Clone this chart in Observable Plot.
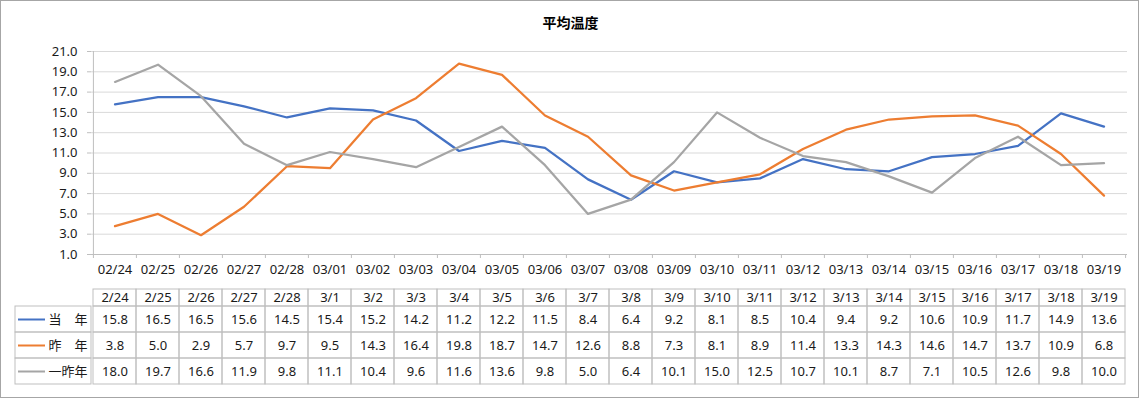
<!DOCTYPE html>
<html><head><meta charset="utf-8">
<script src="https://cdn.jsdelivr.net/npm/d3@7"></script>
<script src="https://cdn.jsdelivr.net/npm/@observablehq/plot@0.6"></script>
<style>
body{margin:0;background:#fff;}
#wrap{position:relative;width:1141px;height:400px;overflow:hidden;}
#border{position:absolute;left:0;top:0;width:1139px;height:398px;box-sizing:border-box;border:1px solid #a6a6a6;}
#title{position:absolute;left:0;width:1141px;top:12px;text-align:center;font:bold 14px "Noto Sans CJK JP",sans-serif;color:#000;}
.part{position:absolute;left:0;}
</style></head><body>
<div id="wrap"><div id="border"></div><div id="title">平均温度</div>
<div id="chart" class="part" style="top:40px"></div>
<div id="head" class="part" style="top:289px"></div>
<div id="body" class="part" style="top:305px"></div>
</div>
<script>
const dates = ["02/24","02/25","02/26","02/27","02/28","03/01","03/02","03/03","03/04","03/05","03/06","03/07","03/08","03/09","03/10","03/11","03/12","03/13","03/14","03/15","03/16","03/17","03/18","03/19"];
const headerLabels = ["2/24","2/25","2/26","2/27","2/28","3/1","3/2","3/3","3/4","3/5","3/6","3/7","3/8","3/9","3/10","3/11","3/12","3/13","3/14","3/15","3/16","3/17","3/18","3/19"];
const seriesNames = ["当　年","昨　年","一昨年"];
const seriesColors = ["#4472C4","#ED7D31","#A5A5A5"];
const currentYear = [15.8,16.5,16.5,15.6,14.5,15.4,15.2,14.2,11.2,12.2,11.5,8.4,6.4,9.2,8.1,8.5,10.4,9.4,9.2,10.6,10.9,11.7,14.9,13.6];
const lastYear = [3.8,5.0,2.9,5.7,9.7,9.5,14.3,16.4,19.8,18.7,14.7,12.6,8.8,7.3,8.1,8.9,11.4,13.3,14.3,14.6,14.7,13.7,10.9,6.8];
const twoYearsAgo = [18.0,19.7,16.6,11.9,9.8,11.1,10.4,9.6,11.6,13.6,9.8,5.0,6.4,10.1,15.0,12.5,10.7,10.1,8.7,7.1,10.5,12.6,9.8,10.0];
const yTicks = [1,3,5,7,9,11,13,15,17,19,21];

const values = [currentYear, lastYear, twoYearsAgo];
const rows = seriesNames.flatMap((s, k) => dates.map((d, i) => ({series: s, date: d, value: values[k][i]})));

const W = 1141, mL = 91, mR = 14;
const innerW = W - mL - mR;
const bw = innerW / dates.length;
const chartH = 248, chartMT = 11, chartMB = 34;
const frameH = chartH - chartMT - chartMB;
const txt = "#1a1a1a", axisGray = "#bfbfbf";
const style = {fontFamily: '"Noto Sans","Noto Sans CJK JP",sans-serif', fontSize: "13px", color: txt, overflow: "visible", background: "transparent"};
const xScale = {type: "band", domain: dates, padding: 0, axis: null, label: null};
const color = {domain: seriesNames, range: seriesColors};

const chart = Plot.plot({
  width: W, height: chartH, marginTop: chartMT, marginBottom: chartMB, marginLeft: mL, marginRight: mR, style,
  x: xScale, y: {domain: [1, 21], axis: null, label: null}, color,
  marks: [
    Plot.gridY(yTicks, {stroke: "#d9d9d9", strokeOpacity: 1}),
    Plot.axisY(yTicks, {label: null, tickSize: 4, tickPadding: 10, tickFormat: d => d.toFixed(1), stroke: axisGray, strokeOpacity: 1, fill: txt, fontSize: 13}),
    Plot.ruleX([dates[0]], {x: d => d, dx: -bw / 2, stroke: axisGray}),
    Plot.ruleY([1], {y: d => d, insetLeft: -4, stroke: axisGray}),
    Plot.ruleX(dates, {x: d => d, dx: -bw / 2, insetTop: frameH, insetBottom: -4, stroke: axisGray}),
    Plot.ruleX(dates.slice(-1), {x: d => d, dx: bw / 2, insetTop: frameH, insetBottom: -4, stroke: axisGray}),
    Plot.axisX({label: null, tickSize: 0, tickPadding: 10, fontSize: 13, fill: txt}),
    Plot.line(rows, {x: "date", y: "value", z: "series", stroke: "series", strokeWidth: 2.25})
  ]
});
document.getElementById("chart").append(chart);

const head = Plot.plot({
  width: W, height: 17, marginTop: 0, marginBottom: 0, marginLeft: mL, marginRight: mR, style,
  x: xScale,
  marks: [
    Plot.cell(dates, {x: d => d, stroke: axisGray, fill: "none"}),
    Plot.text(dates, {x: d => d, text: (d, i) => headerLabels[i], fill: txt, fontSize: 13})
  ]
});
document.getElementById("head").append(head);

const body = Plot.plot({
  width: W, height: 81, marginTop: 0, marginBottom: 1, marginLeft: mL, marginRight: mR, style,
  x: xScale, y: {type: "band", domain: seriesNames, padding: 0, axis: null, label: null}, color,
  marks: [
    Plot.cell(rows, {x: "date", y: "series", stroke: axisGray, fill: "none"}),
    Plot.cell(seriesNames, {y: d => d, stroke: axisGray, fill: "none", insetLeft: -(mL - 15), insetRight: innerW}),
    Plot.text(rows, {x: "date", y: "series", text: d => d.value.toFixed(1), fill: txt, fontSize: 13}),
    Plot.ruleY(seriesNames, {y: d => d, stroke: d => d, strokeWidth: 2, insetLeft: -(mL - 18), insetRight: innerW + 46}),
    Plot.text(seriesNames, {y: d => d, text: d => d, frameAnchor: "left", textAnchor: "start", dx: -(mL - 48), fill: txt, fontSize: 13, fontFamily: "Noto Sans CJK JP"})
  ]
});
document.getElementById("body").append(body);
</script>
</body></html>
